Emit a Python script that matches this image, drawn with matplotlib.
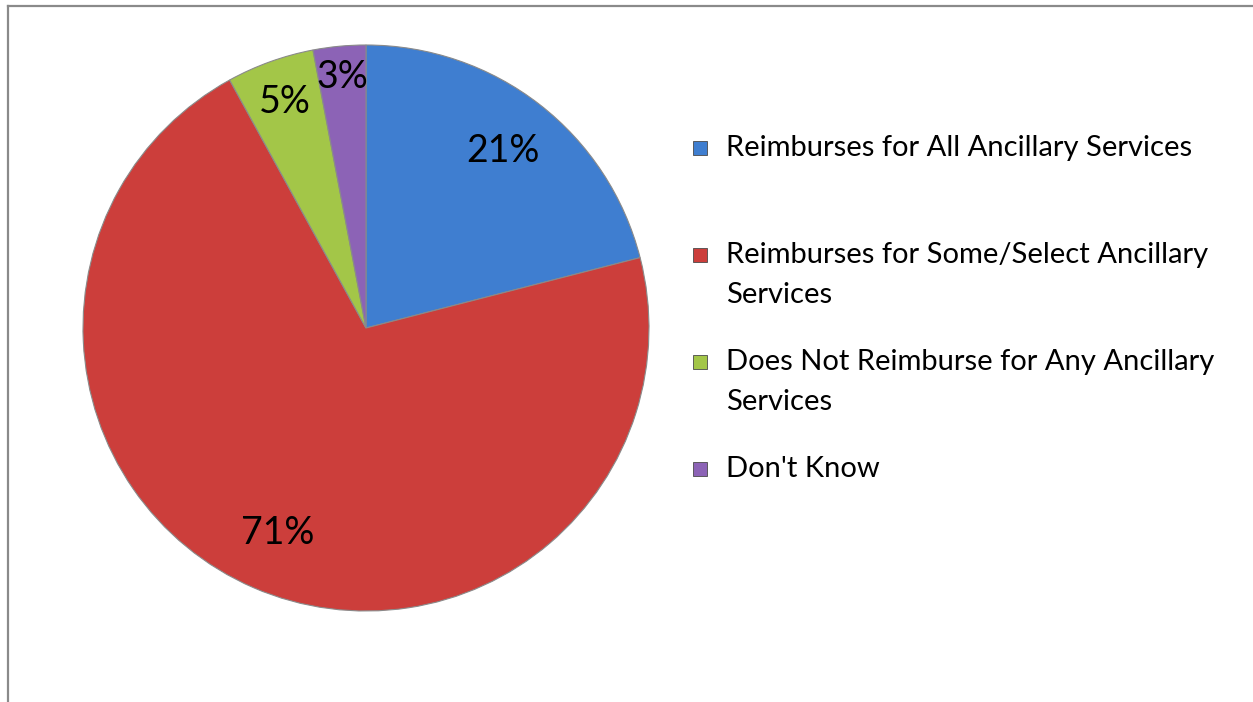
import matplotlib.pyplot as plt
from matplotlib.patches import Rectangle
from matplotlib.lines import Line2D
import numpy as np

plt.rcParams['font.family'] = ['Lato', 'DejaVu Sans']

categories = ['Reimburses for All Ancillary Services',
              'Reimburses for Some/Select Ancillary\nServices',
              'Does Not Reimburse for Any Ancillary\nServices',
              "Don't Know"]
shares = [21, 71, 5, 3]
colors = ['#3f7ed0', '#cc3e3b', '#a3c648', '#8c63b6']
label_dist = [0.79, 0.79, 0.85, 0.89]

W, H = 1253, 702
fig = plt.figure(figsize=[W / 100, H / 100], dpi=100)

# chart frame (only top and left visible)
fig.add_artist(Line2D([8 / W, 1], [1 - 5.5 / H, 1 - 5.5 / H], color='#8a8a8a', lw=1.6))
fig.add_artist(Line2D([8 / W, 8 / W], [0, 1 - 5.5 / H], color='#8a8a8a', lw=1.6))

cx, cy, r = 366, 328, 283
ax = fig.add_axes([(cx - r) / W, (H - cy - r) / H, 2 * r / W, 2 * r / H])
wedges, _ = ax.pie(shares, colors=colors, startangle=90, counterclock=False,
                   radius=1, wedgeprops=dict(edgecolor='#8a8a8a', linewidth=0.8))
ax.set_xlim(-1, 1)
ax.set_ylim(-1, 1)
ax.set_aspect('equal')
ax.axis('off')

for w, val, d in zip(wedges, shares, label_dist):
    ang = np.deg2rad((w.theta1 + w.theta2) / 2)
    ax.text(d * np.cos(ang), d * np.sin(ang), f'{val}%', ha='center', va='center',
            fontsize=27, color='black')

# legend drawn by hand so the marker sits on the first text line
top = 148
for i, (lab, col) in enumerate(zip(categories, colors)):
    y = top + i * 107
    fig.add_artist(Rectangle((693 / W, 1 - (y + 7) / H), 14 / W, 14 / H,
                             facecolor=col, edgecolor='#4a4a4a', lw=0.6))
    for k, line in enumerate(lab.split('\n')):
        fig.text(726 / W, 1 - (y + k * 40) / H, line, ha='left', va='center',
                 fontsize=21, color='black')

fig.savefig('out.png', dpi=100, facecolor='white')
